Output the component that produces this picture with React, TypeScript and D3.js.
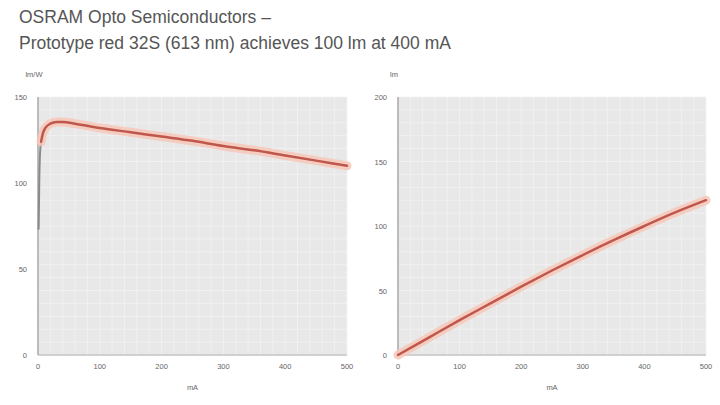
import React from 'react';
import * as d3 from 'd3';

const titleLines = ['OSRAM Opto Semiconductors –', 'Prototype red 32S (613 nm) achieves 100 lm at 400 mA'];

// efficiency curve, lm/W vs mA
const effCurrent = [1, 2, 3, 5, 8, 12, 20, 30, 40, 60, 100, 150, 200, 250, 300, 350, 400, 450, 500];
const effValue = [73, 100, 115, 124, 129, 132, 134.5, 135.5, 135.5, 134.5, 132, 129.5, 127, 124.5, 121.5, 119, 116, 113, 110];

// luminous flux, lm vs mA
const fluxCurrent = [0, 50, 100, 150, 200, 250, 300, 350, 400, 450, 500];
const fluxValue = [0, 13.5, 27, 40, 53, 65.5, 77.5, 89, 100, 110.5, 120];

const xTicks = [0, 100, 200, 300, 400, 500];
const effTicks = [0, 50, 100, 150];
const fluxTicks = [0, 50, 100, 150, 200];

const font = '"Liberation Sans", Arial, sans-serif';

interface PanelProps {
  left: number;
  right: number;
  yMax: number;
  yTicks: number[];
  yLabel: string;
  xs: number[];
  ys: number[];
  greyStart?: number;
}

const Panel: React.FC<PanelProps> = ({ left, right, yMax, yTicks, yLabel, xs, ys, greyStart = 0 }) => {
  const top = 97;
  const bottom = 355;
  const x = d3.scaleLinear().domain([0, 500]).range([left, right]);
  const y = d3.scaleLinear().domain([0, yMax]).range([bottom, top]);
  const pts: [number, number][] = xs.map((v, i) => [v, ys[i]]);
  const line = d3.line<[number, number]>().x(d => x(d[0])).y(d => y(d[1])).curve(d3.curveMonotoneX);
  const redPts = pts.slice(greyStart);
  const greyPts = pts.slice(0, greyStart + 1);

  const vGrid = d3.range(0, 501, 20);
  const hGrid = d3.range(0, yMax + 0.1, yMax / 20);

  return (
    <g>
      <rect x={left} y={top} width={right - left} height={bottom - top} fill="#e8e8e8" />
      {vGrid.map(v => (
        <line key={'v' + v} x1={x(v)} x2={x(v)} y1={top} y2={bottom} stroke="#f3f3f3" strokeWidth={0.8} />
      ))}
      {hGrid.map(v => (
        <line key={'h' + v} x1={left} x2={right} y1={y(v)} y2={y(v)} stroke="#f3f3f3" strokeWidth={0.8} />
      ))}
      <line x1={left} x2={right} y1={bottom} y2={bottom} stroke="#c4c4c4" strokeWidth={1.5} />
      <line x1={left} x2={left} y1={top} y2={bottom} stroke="#a8a8a8" strokeWidth={1.5} />

      {greyStart > 0 && (
        <path d={line(greyPts) || ''} fill="none" stroke="#8a8a8a" strokeWidth={2} />
      )}
      <path d={line(redPts) || ''} fill="none" stroke="#f7c7b8" strokeWidth={9} strokeLinecap="round" opacity={0.85} />
      <path d={line(redPts) || ''} fill="none" stroke="#c0574c" strokeWidth={2.5} strokeLinecap="round" />

      {yTicks.map(t => (
        <text key={'yt' + t} x={left - 11} y={y(t) + 3} fontSize={7.5} fill="#666" textAnchor="end" fontFamily={font}>
          {t}
        </text>
      ))}
      {xTicks.map(t => (
        <text key={'xt' + t} x={x(t)} y={bottom + 14} fontSize={7.5} fill="#666" textAnchor="middle" fontFamily={font}>
          {t}
        </text>
      ))}
      <text x={left - 4} y={top - 20} fontSize={7.5} fill="#666" textAnchor="middle" fontFamily={font}>
        {yLabel}
      </text>
      <text x={(left + right) / 2} y={bottom + 35} fontSize={7.5} fill="#666" textAnchor="middle" fontFamily={font}>
        mA
      </text>
    </g>
  );
};

export default function App() {
  return (
    <svg
      width={720}
      height={405}
      viewBox="0 0 720 405"
      style={{ position: 'absolute', left: 0, top: 0, background: '#fff' }}
    >
      {titleLines.map((t, i) => (
        <text key={i} x={19} y={23 + i * 26} fontSize={17.5} fill="#555" fontFamily={font}>
          {t}
        </text>
      ))}
      <Panel left={38} right={347} yMax={150} yTicks={effTicks} yLabel="lm/W" xs={effCurrent} ys={effValue} greyStart={3} />
      <Panel left={398} right={706} yMax={200} yTicks={fluxTicks} yLabel="lm" xs={fluxCurrent} ys={fluxValue} />
    </svg>
  );
}
